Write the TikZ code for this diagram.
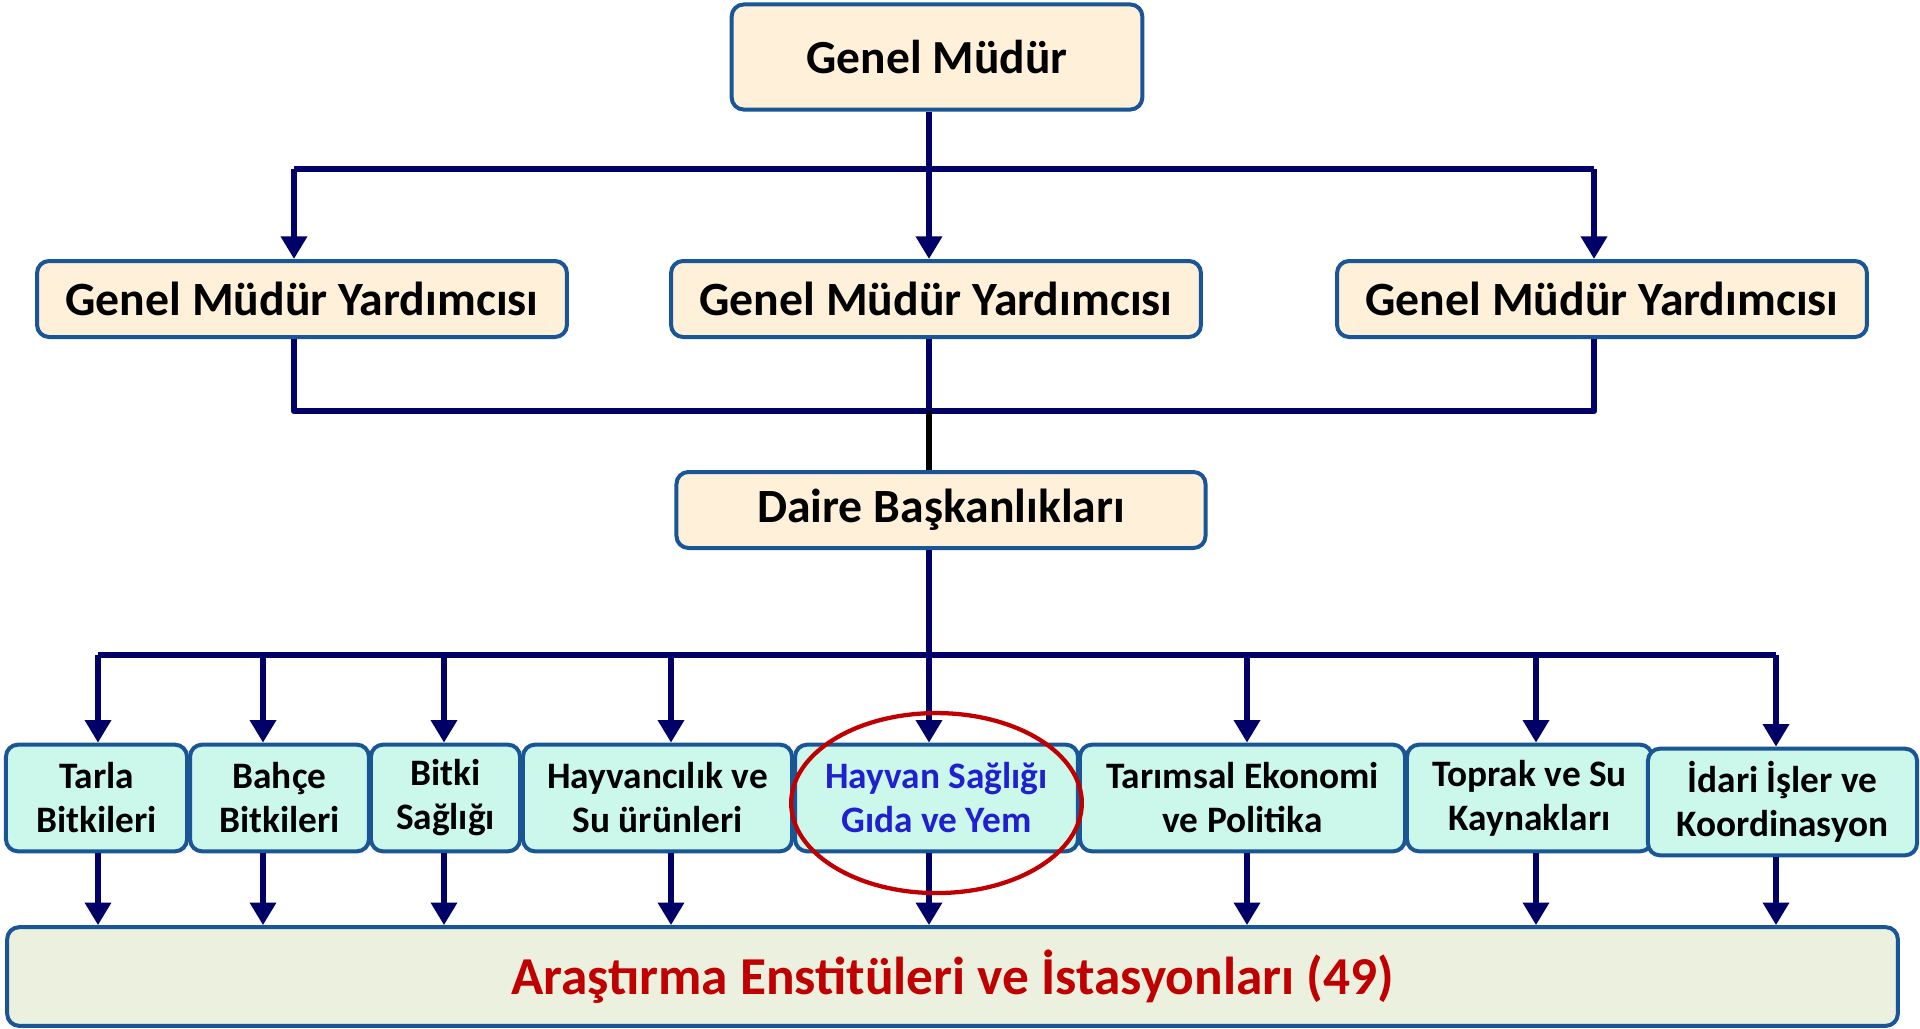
\documentclass[tikz,border=0pt]{standalone}
\usepackage{fontspec}
\setmainfont{Carlito}
\usetikzlibrary{arrows.meta}
\definecolor{lacivert}{HTML}{000066}
\definecolor{kenar}{HTML}{1A5596}
\definecolor{krem}{HTML}{FFF1D9}
\definecolor{mint}{HTML}{CCF8EC}
\definecolor{zeytin}{HTML}{EBF1DE}
\definecolor{kirmizi}{HTML}{C00000}
\definecolor{mavi}{HTML}{2020D0}
\begin{document}
\begin{tikzpicture}[x=0.375pt, y=-0.375pt, line join=round, >={Triangle[width=9.5pt,length=8.5pt]},
    kutu/.style={draw=kenar, line width=1.5pt, rounded corners=4.5pt, fill=krem, inner sep=0pt, align=center},
    yonetim/.style={kutu, minimum width=198.7pt, minimum height=28.5pt, font=\bfseries\fontsize{17.9}{20}\selectfont},
    birim/.style={kutu, fill=mint, minimum height=40pt, font=\bfseries\fontsize{14}{16.5}\selectfont},
    hat/.style={draw=lacivert, line width=2.6pt}]
    \fill[white] (0,0) rectangle (1920,1028);
    \useasboundingbox (0,0) rectangle (1920,1028);
    % kutular
    \node[kutu, minimum width=154pt, minimum height=39.4pt, font=\bfseries\fontsize{17.8}{20}\selectfont] (gm) at (937,57) {Genel Müdür};
    \node[yonetim] (gmy1) at (302,299) {Genel Müdür Yardımcısı};
    \node[yonetim] (gmy2) at (936,299) {Genel Müdür Yardımcısı};
    \node[yonetim] (gmy3) at (1602,299) {Genel Müdür Yardımcısı};
    \node[yonetim, minimum width=198.4pt] (daire) at (941,510) {Daire Başkanlıkları};
    \node[birim, minimum width=67.9pt] (tarla) at (96.5,798) {Tarla\\Bitkileri};
    \node[birim, minimum width=67.1pt] (bahce) at (279.5,798) {Bahçe\\Bitkileri};
    \node[birim, minimum width=55.9pt] (bitki) at (445.5,798) {Bitki\\Sağlığı};
    \node[birim, minimum width=100.9pt] (hayvancilik) at (657.5,798) {Hayvancılık ve\\Su ürünleri};
    \node[birim, minimum width=106.1pt, text=mavi] (hayvansag) at (936.5,798) {Hayvan Sağlığı\\Gıda ve Yem};
    \node[birim, minimum width=121.9pt] (tarimsal) at (1242.5,798) {Tarımsal Ekonomi\\ve Politika};
    \node[birim, minimum width=91.9pt] (toprak) at (1529.5,798) {Toprak ve Su\\Kaynakları};
    \node[birim, minimum width=100.9pt] (idari) at (1782.5,802) {İdari İşler ve\\Koordinasyon};
    \node[kutu, fill=zeytin, minimum width=709pt, minimum height=37pt, text=kirmizi, font=\bfseries\fontsize{20}{23}\selectfont] (enst) at (952.5,976.5) {Araştırma Enstitüleri ve İstasyonları (49)};
    % baglantilar
    \coordinate (orta) at (929,0);
    \coordinate (ubus) at (0,169);
    \coordinate (obus) at (0,411);
    \coordinate (abus) at (0,655);
    \coordinate (solU) at ([xshift=-3pt]gmy1.north);
    \coordinate (sagU) at ([xshift=-3pt]gmy3.north);
    \draw[hat,->] (orta |- gm.south) -- (orta |- gmy2.north);
    \draw[hat] (ubus -| solU) -- (ubus -| sagU);
    \draw[hat,->] (ubus -| solU) -- (solU);
    \draw[hat,->] (ubus -| sagU) -- (sagU);
    \draw[hat] (solU |- gmy1.south) -- (obus -| solU) -- (obus -| sagU) -- (sagU |- gmy3.south);
    \draw[hat] (orta |- gmy2.south) -- (orta |- obus);
    \draw[line width=2.6pt] (orta |- obus) -- (orta |- daire.north);
    \draw[hat,->] (orta |- daire.south) -- (orta |- hayvansag.north);
    \draw[hat,->] (orta |- hayvansag.south) -- (orta |- enst.north);
    \foreach \n/\dx in {tarla/1.5,bahce/-16.5,bitki/-1.5,hayvancilik/13.5,tarimsal/4.5,toprak/6.5,idari/-6.5}{
        \coordinate (\n U) at ([xshift=\dx*0.375pt]\n.north);
        \coordinate (\n A) at ([xshift=\dx*0.375pt]\n.south);
        \draw[hat,->] (\n U |- abus) -- (\n U);
        \draw[hat,->] (\n A) -- (\n A |- enst.north);
    }
    \draw[hat] (tarlaU |- abus) -- (idariU |- abus);
    \draw[kirmizi, line width=1.6pt] ([yshift=-1.9pt]hayvansag.center) ellipse [x radius=54.5pt, y radius=33.75pt];
\end{tikzpicture}
\end{document}
